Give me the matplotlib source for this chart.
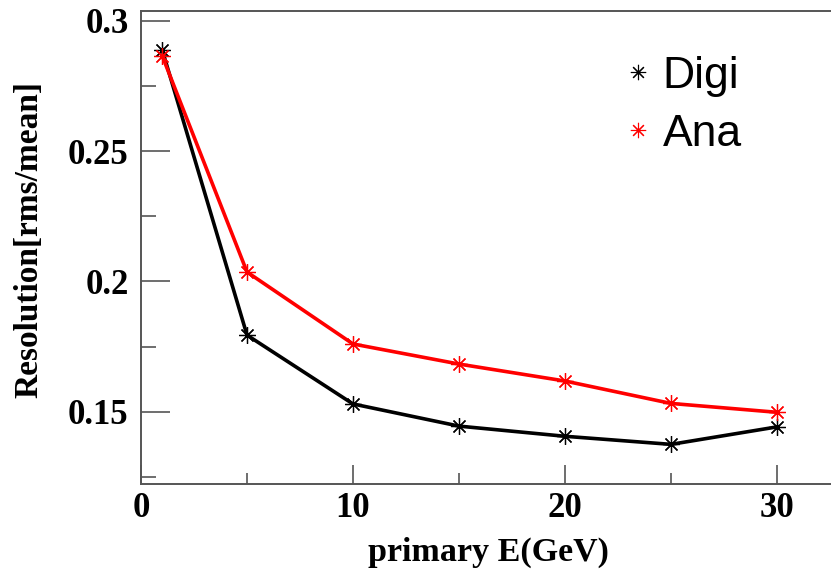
import matplotlib
matplotlib.use("Agg")
import matplotlib.pyplot as plt
from matplotlib.ticker import MultipleLocator

energy = [1, 5, 10, 15, 20, 25, 30]
digi = [0.2888, 0.1794, 0.1530, 0.1445, 0.1406, 0.1375, 0.1442]
ana = [0.2865, 0.2036, 0.1760, 0.1683, 0.1618, 0.1532, 0.1498]

fig = plt.figure(figsize=(8.31, 5.74), dpi=100)
ax = fig.add_axes([0.1697, 0.1568, 0.8303, 0.824])

star = (8, 2, 0)
ax.plot(energy, digi, color="black", lw=2.6, marker=star, ms=12,
        mew=0.9, label="Digi")
ax.plot(energy, ana, color="red", lw=2.6, marker=star, ms=12,
        mew=0.9, label="Ana")

ax.set_xlim(0, 32.55)
ax.set_ylim(0.1223, 0.3037)

ax.xaxis.set_major_locator(MultipleLocator(10))
ax.xaxis.set_minor_locator(MultipleLocator(5))
ax.yaxis.set_major_locator(MultipleLocator(0.05))
ax.yaxis.set_minor_locator(MultipleLocator(0.025))
ax.yaxis.set_major_formatter(plt.FuncFormatter(lambda v, p: f"{v:g}"))

ax.tick_params(which="both", direction="in", top=False, right=False,
               color="#555555", width=1.2)
ax.tick_params(axis="x", which="major", length=14, pad=6)
ax.tick_params(axis="x", which="minor", length=8)
ax.tick_params(axis="y", which="major", length=21, pad=9)
ax.tick_params(axis="y", which="minor", length=11)
for lab in ax.get_xticklabels() + ax.get_yticklabels():
    lab.set_fontfamily("Liberation Serif")
    lab.set_fontweight("bold")
    lab.set_fontsize(25)

for side in ["left", "bottom", "top"]:
    ax.spines[side].set_color("#555555")
    ax.spines[side].set_linewidth(1.4)
ax.spines["right"].set_visible(False)

ax.set_xlabel("primary E(GeV)", fontfamily="Liberation Serif",
              fontweight="bold", fontsize=24.5, va="center")
ax.xaxis.set_label_coords(0.503, -0.145)
ax.set_ylabel("Resolution[rms/mean]", fontfamily="Liberation Serif",
              fontweight="bold", fontsize=24, va="center")
ax.yaxis.set_label_coords(-0.163, 0.516)

leg = ax.legend(loc="upper left", bbox_to_anchor=(0.643, 0.99), frameon=False,
                handlelength=0.6, handletextpad=0.25, labelspacing=0.38,
                prop={"family": "Liberation Sans", "size": 32})
for h in leg.legend_handles:
    h.set_linestyle("none")
    h.set_markersize(11)
    h.set_markeredgewidth(0.8)

fig.savefig("out.png", dpi=100)
